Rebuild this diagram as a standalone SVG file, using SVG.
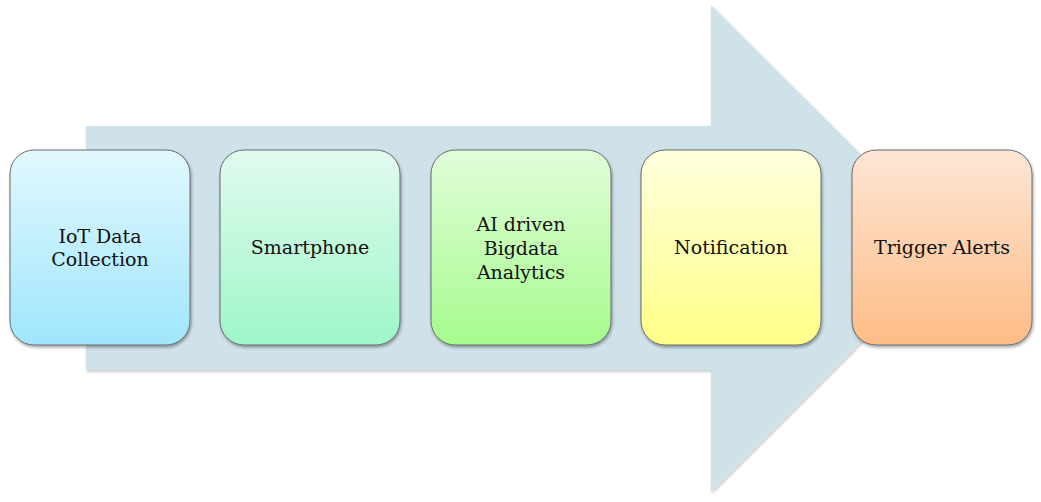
<svg xmlns="http://www.w3.org/2000/svg" width="1041" height="502" viewBox="0 0 1041 502">
<style>
.box{stroke:#6b6b6b;stroke-width:1;filter:url(#sh)}
.t{font-family:"DejaVu Serif","Liberation Serif",serif;font-size:19px;fill:#111;text-anchor:middle}
</style>
<defs>
<filter id="sh" x="-10%" y="-10%" width="130%" height="130%">
<feDropShadow dx="1" dy="2" stdDeviation="1.5" flood-color="#000" flood-opacity="0.35"/>
</filter>
<filter id="ash" x="-5%" y="-5%" width="110%" height="110%">
<feDropShadow dx="1" dy="2" stdDeviation="1.5" flood-color="#000" flood-opacity="0.2"/>
</filter>
<linearGradient id="g1" x1="0" y1="0" x2="0" y2="1"><stop offset="0" stop-color="#e2f8fe"/><stop offset="1" stop-color="#9fe6fc"/></linearGradient>
<linearGradient id="g2" x1="0" y1="0" x2="0" y2="1"><stop offset="0" stop-color="#e2fbef"/><stop offset="1" stop-color="#9ef6c9"/></linearGradient>
<linearGradient id="g3" x1="0" y1="0" x2="0" y2="1"><stop offset="0" stop-color="#e2fdda"/><stop offset="1" stop-color="#a5fb8d"/></linearGradient>
<linearGradient id="g4" x1="0" y1="0" x2="0" y2="1"><stop offset="0" stop-color="#ffffde"/><stop offset="1" stop-color="#ffff88"/></linearGradient>
<linearGradient id="g5" x1="0" y1="0" x2="0" y2="1"><stop offset="0" stop-color="#fde6d5"/><stop offset="1" stop-color="#fdbc86"/></linearGradient>
</defs>
<g id="arrow">
<polygon points="86,126 711,126 711,5 955,248 711,492 711,370 86,370" fill="#cfe1e9" filter="url(#ash)"/>
</g>
<g id="connectors"></g>
<g id="n1">
<rect class="box" x="10" y="150" width="180" height="195" rx="24" fill="url(#g1)"/>
<text class="t" x="100" y="243">IoT Data</text>
<text class="t" x="100" y="266">Collection</text>
</g>
<g id="n2">
<rect class="box" x="220" y="150" width="180" height="195" rx="24" fill="url(#g2)"/>
<text class="t" x="310" y="254">Smartphone</text>
</g>
<g id="n3">
<rect class="box" x="431" y="150" width="180" height="195" rx="24" fill="url(#g3)"/>
<text class="t" x="521" y="231">AI driven</text>
<text class="t" x="521" y="255">Bigdata</text>
<text class="t" x="521" y="279">Analytics</text>
</g>
<g id="n4">
<rect class="box" x="641" y="150" width="180" height="195" rx="24" fill="url(#g4)"/>
<text class="t" x="731" y="254">Notification</text>
</g>
<g id="n5">
<rect class="box" x="852" y="150" width="180" height="195" rx="24" fill="url(#g5)"/>
<text class="t" x="942" y="254">Trigger Alerts</text>
</g>
</svg>
